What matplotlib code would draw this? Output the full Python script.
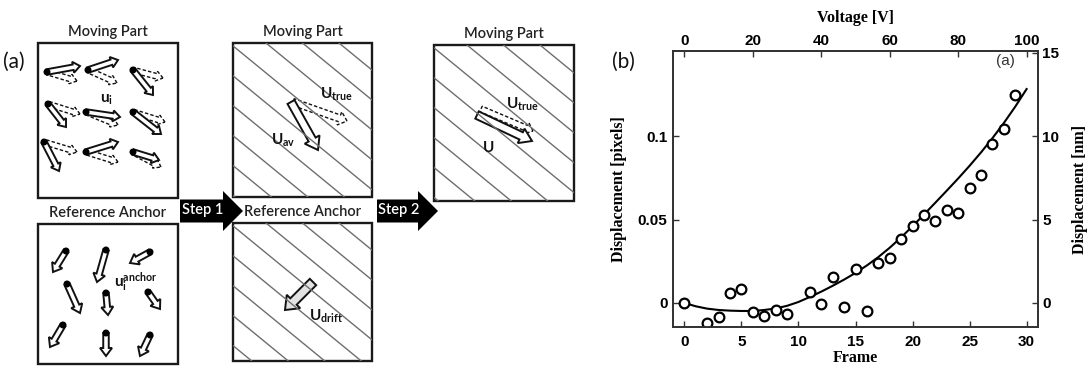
import numpy as np
import matplotlib
matplotlib.use("Agg")
import matplotlib.pyplot as plt
from matplotlib.patches import FancyArrow, Rectangle, Circle

plt.rcParams["mathtext.fontset"] = "custom"
plt.rcParams["mathtext.rm"] = "Lato"
plt.rcParams["mathtext.bf"] = "Lato:bold"

# --------------------------- panel (b) data ---------------------------
frame_obs = [0, 2, 3, 4, 5, 6, 7, 8, 9, 11, 12, 13, 14, 15, 16, 17, 18, 19,
             20, 21, 22, 23, 24, 25, 26, 27, 28, 29]
disp_obs = [0.0, -0.0118, -0.0086, 0.0062, 0.0082, -0.0056, -0.0078, -0.0042,
            -0.0066, 0.0064, -0.0008, 0.0157, -0.0022, 0.0206, -0.0046, 0.0241,
            0.0271, 0.0385, 0.0459, 0.0528, 0.0489, 0.0555, 0.0537, 0.0690,
            0.0768, 0.0951, 0.1041, 0.1246]

frame_fit = list(range(31))
disp_fit = [0.0, -0.0020, -0.0034, -0.0042, -0.0046, -0.0048, -0.0048, -0.0042,
            -0.0033, -0.0017, 0.0006, 0.0036, 0.0068, 0.0103, 0.0140, 0.0180,
            0.0225, 0.0275, 0.0331, 0.0393, 0.0460, 0.0530, 0.0601, 0.0673,
            0.0746, 0.0822, 0.0902, 0.0987, 0.1078, 0.1176, 0.1282]

frame_ticks = [0, 5, 10, 15, 20, 25, 30]
volt_ticks = [0, 20, 40, 60, 80, 100]
pix_ticks = [0, 0.05, 0.1]
pix_ticklabels = ["0", "0.05", "0.1"]
nm_ticks = [0, 5, 10, 15]
volts_per_frame = 100 / 30
nm_per_pixel = 100

# --------------------------- panel (a) layout ---------------------------
# boxes: (x0, y0, x1, y1, title, hatched) in pixel coords of the figure
boxes = [
    (38, 43, 178, 198, "Moving Part", False),
    (38, 224, 178, 364, "Reference Anchor", False),
    (233, 43, 372, 197, "Moving Part", True),
    (233, 223, 372, 361, "Reference Anchor", True),
    (434, 45, 574, 201, "Moving Part", True),
]

# box 1: per-grid-point (tail, solid head, dashed head)
moving_tails = [(47, 72), (88, 70), (133, 70), (48, 104), (86, 112), (133, 112),
                (44, 142), (86, 152), (133, 152)]
moving_solid = [(80, 66), (118, 60), (153, 95), (66, 127), (120, 117), (161, 134),
                (59, 171), (118, 142), (159, 160)]
moving_dashed = [(77, 81), (117, 83), (163, 78), (80, 114), (118, 125), (165, 122),
                 (77, 152), (118, 162), (161, 167)]

anchor_tails = [(66, 251), (106, 250), (150, 252), (67, 284), (106, 293), (148, 292),
                (63, 325), (106, 333), (150, 335)]
anchor_heads = [(53, 272), (97, 282), (130, 263), (80, 313), (108, 315), (160, 309),
                (50, 347), (106, 356), (140, 356)]

fig = plt.figure(figsize=(10.9, 3.69), dpi=100)

# --------------------------- diagram ---------------------------
dax = fig.add_axes([0, 0, 1, 1])
dax.set_xlim(0, 1090)
dax.set_ylim(369, 0)
dax.axis("off")

title_font = dict(family="Lato", weight="semibold", fontsize=10.5, color="#222222",
                  ha="center", va="center")

for x0, y0, x1, y1, title, hatched in boxes:
    if hatched:
        clip = Rectangle((x0, y0), x1 - x0, y1 - y0, transform=dax.transData)
        s = 0.82
        h = y1 - y0
        for c in np.arange(x0 + 33 - 8 * 36.5, x1 + 36.5, 36.5):
            ln, = dax.plot([c, c + h / s], [y0, y1], color="#6e6e6e", lw=1.0)
            ln.set_clip_path(clip)
    dax.add_patch(Rectangle((x0, y0), x1 - x0, y1 - y0, fill=False, ec="#1a1a1a", lw=1.7))
    dax.text((x0 + x1) / 2, y0 - 11, title, **title_font)


def block_arrow(tail, head, w, hw, hl, fc="white", ls="-", lw=1.4):
    dx, dy = head[0] - tail[0], head[1] - tail[1]
    a = FancyArrow(tail[0], tail[1], dx, dy, width=w, head_width=hw, head_length=hl,
                   length_includes_head=True, fc=fc, ec="#111111", lw=lw, ls=ls)
    dax.add_patch(a)


for t, sh, dh in zip(moving_tails, moving_solid, moving_dashed):
    block_arrow(t, dh, 5.5, 10, 7, ls=(0, (2.5, 1.5)), lw=1.0)
    block_arrow(t, sh, 5.5, 11, 7)
    dax.add_patch(Circle(t, 2.8, color="black"))

for t, hd in zip(anchor_tails, anchor_heads):
    block_arrow(t, hd, 5.5, 12, 8)
    dax.add_patch(Circle(t, 2.8, color="black"))

# averaged / drift / corrected arrows
block_arrow((293, 102), (347, 121), 7, 14, 8, ls=(0, (2.5, 1.5)), lw=1.0)
block_arrow((291, 102), (318, 150), 8, 17, 12)
block_arrow((313, 282), (285, 310), 9, 19, 12, fc="#e2e2e2")
block_arrow((481, 109), (533, 131), 6, 12, 7, ls=(0, (2.5, 1.5)), lw=1.0)
block_arrow((477, 115), (532, 141), 8, 16, 12)

lab = dict(fontsize=11, color="#111111", va="center", ha="left")
dax.text(100, 99, r"$\mathbf{u_i}$", **lab)
dax.text(114, 282, r"$\mathbf{u_i^{anchor}}$", **lab)
dax.text(320, 94, r"$\mathbf{U_{true}}$", **lab)
dax.text(271, 140, r"$\mathbf{U_{av}}$", **lab)
dax.text(309, 316, r"$\mathbf{U_{drift}}$", **lab)
dax.text(506, 104, r"$\mathbf{U_{true}}$", **lab)
dax.text(482, 147, r"$\mathbf{U}$", **lab)

# step arrows
for x_start, x_head, label in [(180, 223, "Step 1"), (377, 418, "Step 2")]:
    dax.add_patch(FancyArrow(x_start, 211, x_head + 20 - x_start, 0, width=23,
                             head_width=40, head_length=20, length_includes_head=True,
                             fc="black", ec="black", lw=0))
    dax.text((x_start + x_head) / 2 + 1, 210, label, family="Lato", weight="semibold",
             fontsize=10.5, color="white", ha="center", va="center")

dax.text(3, 62, "(a)", family="Lato", fontsize=15, ha="left", va="center", color="#111111")
dax.text(612, 62, "(b)", family="Lato", fontsize=15, ha="left", va="center", color="#111111")

# --------------------------- plot (b) ---------------------------
ax = fig.add_axes([673 / 1090, 1 - 327 / 369, 365 / 1090, 276 / 369])
ax.plot(frame_fit, disp_fit, color="black", lw=1.5, zorder=2)
ax.plot(frame_obs, disp_obs, ls="none", marker="o", ms=7, mfc="white", mec="black",
        mew=1.6, zorder=3)
ax.set_xlim(-1, 31)
ax.set_ylim(-0.0144, 0.151)

tick_font = dict(family="Liberation Sans", weight="bold", size=11)
label_font = dict(family="Liberation Serif", weight="bold", size=11.5)

ax.set_xticks(frame_ticks)
ax.set_xticklabels([str(v) for v in frame_ticks], fontdict=tick_font)
ax.set_yticks(pix_ticks)
ax.set_yticklabels(pix_ticklabels, fontdict=tick_font)
ax.tick_params(direction="in", length=4, width=1, color="#333333")
ax.tick_params(axis="x", pad=6)
ax.tick_params(axis="y", pad=4)
ax.set_xlabel("Frame", fontdict=label_font)
ax.set_ylabel("Displacement [pixels]", fontdict=label_font)
ax.xaxis.set_label_coords(0.5, -0.085)
ax.yaxis.set_label_coords(-0.125, 0.5)

top = ax.twiny()
top.set_xlim(-1 * volts_per_frame, 31 * volts_per_frame)
top.set_xticks(volt_ticks)
top.set_xticklabels([str(v) for v in volt_ticks], fontdict=tick_font)
top.tick_params(direction="in", length=4, width=1, color="#333333", pad=2)
top.set_xlabel("Voltage [V]", fontdict=label_font)
top.xaxis.set_label_coords(0.5, 1.105)

right = ax.twinx()
right.set_ylim(-0.0144 * nm_per_pixel, 0.151 * nm_per_pixel)
right.set_yticks(nm_ticks)
right.set_yticklabels([str(v) for v in nm_ticks], fontdict=tick_font)
right.tick_params(direction="in", length=4, width=1, color="#333333", pad=3)
right.set_ylabel("Displacement [nm]", fontdict=label_font)
right.yaxis.set_label_coords(1.092, 0.5)

for a in (ax, top, right):
    for sp in a.spines.values():
        sp.set_linewidth(1.1)
        sp.set_color("#333333")

ax.text(0.91, 0.962, "(a)", transform=ax.transAxes, family="Liberation Sans",
        fontsize=11, ha="center", va="center", color="#333333")

fig.savefig("out.png", dpi=100)
